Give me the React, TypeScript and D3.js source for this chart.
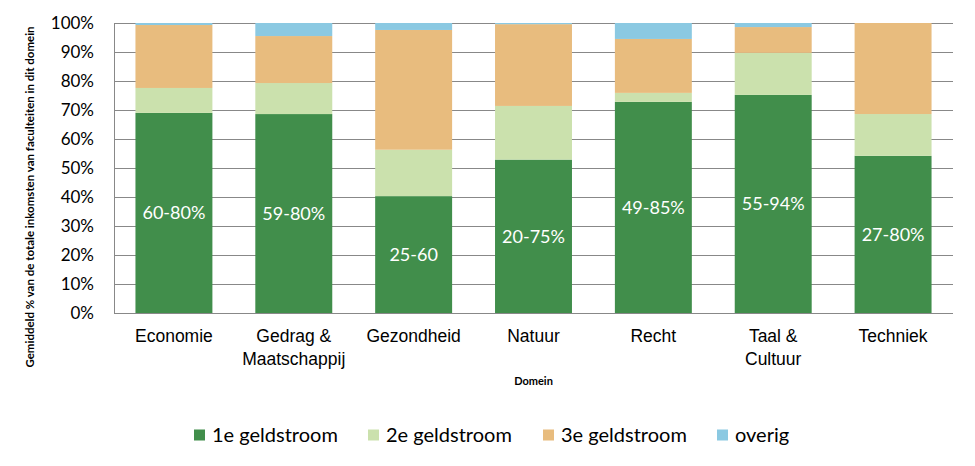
import React, { useEffect, useRef } from "react";
import * as d3 from "d3";

const domains = ["Economie", "Gedrag & Maatschappij", "Gezondheid", "Natuur", "Recht", "Taal & Cultuur", "Techniek"];
const domainLines = [["Economie"], ["Gedrag &", "Maatschappij"], ["Gezondheid"], ["Natuur"], ["Recht"], ["Taal &", "Cultuur"], ["Techniek"]];
const series = ["1e geldstroom", "2e geldstroom", "3e geldstroom", "overig"];
const eerste = [69.0, 68.6, 40.3, 52.9, 72.8, 75.2, 54.2];
const tweede = [8.6, 10.7, 16.0, 18.5, 3.1, 14.5, 14.4];
const derde = [21.7, 16.2, 41.3, 28.2, 18.6, 8.9, 31.4];
const overig = [0.7, 4.5, 2.4, 0.4, 5.5, 1.4, 0.0];
const ranges = ["60-80%", "59-80%", "25-60", "20-75%", "49-85%", "55-94%", "27-80%"];
const yTicks = [0, 10, 20, 30, 40, 50, 60, 70, 80, 90, 100];
const colors = ["#418e4b", "#cbe1ad", "#e8bc7e", "#8bc9e2"];

const App: React.FC = () => {
  const svgRef = useRef<SVGSVGElement | null>(null);

  useEffect(() => {
    if (!svgRef.current) return;
    const width = 975;
    const height = 466;
    const margin = { top: 23, right: 22, bottom: 153, left: 114 };

    d3.select(svgRef.current).selectAll("*").remove();
    const svg = d3.select(svgRef.current).attr("width", width).attr("height", height);

    const rows = domains.map((d, i) => ({
      domain: d,
      "1e geldstroom": eerste[i],
      "2e geldstroom": tweede[i],
      "3e geldstroom": derde[i],
      overig: overig[i],
    }));

    const stacked = d3.stack<any>().keys(series)(rows);

    const x = d3
      .scaleBand()
      .domain(domains)
      .range([margin.left, width - margin.right])
      .paddingInner(0.358)
      .paddingOuter(0.179);

    const y = d3
      .scaleLinear()
      .domain([0, 100])
      .range([height - margin.bottom, margin.top]);

    const font = "Lato, 'Open Sans', sans-serif";

    // gridlines
    svg
      .append("g")
      .selectAll("line")
      .data(yTicks)
      .enter()
      .append("line")
      .attr("x1", margin.left)
      .attr("x2", width - margin.right)
      .attr("y1", (d) => Math.round(y(d)) + 0.5)
      .attr("y2", (d) => Math.round(y(d)) + 0.5)
      .attr("stroke", "#888")
      .attr("stroke-width", 1);

    // y axis line
    svg
      .append("line")
      .attr("x1", margin.left + 0.5)
      .attr("x2", margin.left + 0.5)
      .attr("y1", y(100))
      .attr("y2", y(0))
      .attr("stroke", "#888");

    // bars
    svg
      .append("g")
      .selectAll("g")
      .data(stacked)
      .enter()
      .append("g")
      .attr("fill", (_, i) => colors[i])
      .selectAll("rect")
      .data((s) => s)
      .enter()
      .append("rect")
      .attr("x", (d: any) => x(d.data.domain)!)
      .attr("y", (d) => y(d[1]))
      .attr("width", x.bandwidth())
      .attr("height", (d) => y(d[0]) - y(d[1]));

    // range labels in green segment
    svg
      .append("g")
      .selectAll("text")
      .data(domains)
      .enter()
      .append("text")
      .attr("x", (d) => x(d)! + x.bandwidth() / 2)
      .attr("y", (_, i) => y(eerste[i] / 2))
      .attr("dy", "0.36em")
      .attr("text-anchor", "middle")
      .attr("fill", "white")
      .style("font-family", font)
      .style("font-size", "18px")
      .text((_, i) => ranges[i]);

    // y tick labels
    svg
      .append("g")
      .selectAll("text")
      .data(yTicks)
      .enter()
      .append("text")
      .attr("x", 94)
      .attr("y", (d) => y(d))
      .attr("dy", "0.36em")
      .attr("text-anchor", "end")
      .attr("fill", "#000")
      .style("font-family", font)
      .style("font-size", "17px")
      .text((d) => `${d}%`);

    // category labels
    const cat = svg
      .append("g")
      .selectAll("text")
      .data(domains)
      .enter()
      .append("text")
      .attr("text-anchor", "middle")
      .attr("fill", "#000")
      .style("font-family", "'Liberation Sans', Arial, sans-serif")
      .style("font-size", "17.5px");
    cat
      .selectAll("tspan")
      .data((_, i) => domainLines[i].map((l) => ({ l, d: domains[i] })))
      .enter()
      .append("tspan")
      .attr("x", (t) => x(t.d)! + x.bandwidth() / 2)
      .attr("y", (_, j) => 342 + j * 23)
      .text((t) => t.l);

    // axis titles
    svg
      .append("text")
      .attr("x", (margin.left + width - margin.right) / 2)
      .attr("y", 385)
      .attr("text-anchor", "middle")
      .style("font-family", font)
      .style("font-weight", "bold")
      .style("font-size", "11px")
      .text("Domein");

    svg
      .append("text")
      .attr("transform", `translate(34, 197) rotate(-90)`)
      .attr("text-anchor", "middle")
      .style("font-family", font)
      .style("font-weight", "bold")
      .style("font-size", "11.5px")
      .text("Gemiddeld % van de totale inkomsten van faculteiten in dit domein");

    // legend
    const legendX = [194, 368, 543, 717];
    const lg = svg
      .append("g")
      .selectAll("g")
      .data(series)
      .enter()
      .append("g")
      .attr("transform", (_, i) => `translate(${legendX[i]}, 435)`);
    lg.append("rect")
      .attr("x", 0)
      .attr("y", -5.5)
      .attr("width", 11)
      .attr("height", 11)
      .attr("fill", (_, i) => colors[i]);
    lg.append("text")
      .attr("x", 18)
      .attr("dy", "0.36em")
      .style("font-family", font)
      .style("font-size", "20px")
      .text((d) => d);
  }, []);

  return (
    <div style={{ margin: -8 }}>
      <svg ref={svgRef}></svg>
    </div>
  );
};

export default App;
